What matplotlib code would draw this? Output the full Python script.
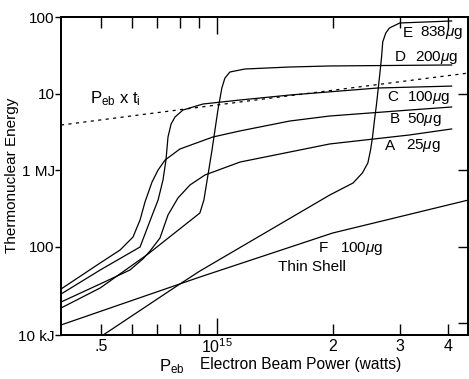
import matplotlib
matplotlib.use("Agg")
import matplotlib.pyplot as plt

plt.rcParams['font.family'] = ['Liberation Sans', 'DejaVu Sans']
plt.rcParams['mathtext.fontset'] = 'custom'
plt.rcParams['mathtext.rm'] = 'Liberation Sans'
plt.rcParams['mathtext.it'] = 'Liberation Sans:italic'

# power in units of 1e15 W, energy in MJ
a_p = [0.393, 0.497, 0.594, 0.642, 0.670, 0.711, 0.746, 0.792, 0.851, 0.931, 1.148, 1.966, 3.17, 4.08]
a_e = [0.0188, 0.0324, 0.0493, 0.0688, 0.0873, 0.129, 0.258, 0.431, 0.637, 0.861, 1.27, 2.19, 2.87, 3.44]

b_p = [0.393, 0.497, 0.560, 0.605, 0.631, 0.650, 0.678, 0.703, 0.733, 0.801, 0.976, 1.148, 1.548, 1.966, 3.17, 4.08]
b_e = [0.0278, 0.0609, 0.0900, 0.133, 0.222, 0.382, 0.697, 1.0, 1.35, 1.88, 2.70, 3.24, 4.37, 5.08, 6.08, 6.66]

c_p = [0.393, 0.497, 0.631, 0.682, 0.703, 0.724, 0.737, 0.746, 0.760, 0.778, 0.816, 0.920, 1.148, 1.548, 2.62, 4.08]
c_e = [0.0239, 0.0493, 0.0985, 0.274, 0.405, 0.740, 1.35, 2.70, 3.99, 4.93, 6.08, 7.29, 8.22, 9.55, 11.8, 12.5]

d_p = [0.393, 0.497, 0.662, 0.903, 0.925, 0.971, 1.006, 1.030, 1.049, 1.081, 1.182, 1.548, 1.966, 4.08]
d_e = [0.0157, 0.0287, 0.0798, 0.274, 0.405, 1.82, 6.08, 11.8, 15.9, 19.1, 20.9, 22.2, 22.9, 23.6]

e_p = [0.506, 0.787, 0.903, 1.966, 2.26, 2.39, 2.47, 2.51, 2.54, 2.57, 2.60, 2.65, 2.68, 2.70, 2.75, 2.81, 2.99, 4.08]
e_e = [0.00697, 0.0305, 0.0478, 0.471, 0.676, 0.914, 1.235, 1.82, 2.70, 4.50, 7.08, 17.0, 29.1, 47.1, 61.8, 71.8, 83.5, 88.7]

f_p = [0.393, 0.903, 2.0, 4.51]
f_e = [0.00942, 0.0399, 0.150, 0.405]

pt_p = [0.393, 1.148, 4.51]
pt_e = [3.87, 7.74, 18.5]

curve_letters = ["A", "B", "C", "D", "E"]
curve_masses = ["25$\\mu$g", "50$\\mu$g", "100$\\mu$g", "200$\\mu$g", "838$\\mu$g"]
letter_pos = [(2.73, 2.06), (2.81, 4.64), (2.78, 9.0), (2.90, 30.0), (3.04, 61.8)]
mass_pos = [(3.10, 2.06), (3.12, 4.64), (3.13, 9.0), (3.27, 30.0), (3.37, 61.8)]

fig = plt.figure(figsize=(4.69, 3.79), dpi=100)
ax = fig.add_axes([61/469, 1-335/379, 407/469, 318/379])

for p, e in [(a_p, a_e), (b_p, b_e), (c_p, c_e), (d_p, d_e), (e_p, e_e), (f_p, f_e)]:
    ax.plot(p, e, color='black', lw=0.9)
ax.plot(pt_p, pt_e, color='black', lw=0.9, ls=(0, (2.5, 3.5)))

ax.set_xscale('log')
ax.set_yscale('log')
ax.set_xlim(0.393, 4.5)
ybot = 0.01 * 10 ** (-12 / 76.5)
ax.set_ylim(ybot, 100)

# x ticks
ax.set_xticks([1])
ax.set_xticklabels(['$10^{15}$'])
ax.set_xticks([0.5, 0.6, 0.7, 0.8, 0.9, 2, 3, 4], minor=True)
ax.set_xticklabels(['.5', '', '', '', '', '2', '3', '4'], minor=True)
ax.tick_params(axis='x', which='major', direction='in', length=12, width=1, top=True, labelsize=11.5, pad=2)
ax.tick_params(axis='x', which='minor', direction='in', length=8, width=1, top=True, labelsize=11.5, pad=3)

# y ticks (left, outward)
ax.set_yticks([ybot, 0.1, 1, 10, 100])
ax.set_yticklabels(['10 kJ', '100', '1 MJ', '10', '100'])
ax.yaxis.set_minor_locator(plt.NullLocator())
ax.tick_params(axis='y', which='major', direction='out', length=4, width=1, labelsize=11, pad=0.5)

ax2 = ax.twinx()
ax2.set_yscale('log')
ax2.set_ylim(ax.get_ylim())
ax2.set_yticks([0.01, 0.1, 1, 10])
ax2.yaxis.set_minor_locator(plt.NullLocator())
ax2.tick_params(axis='y', direction='in', length=7, width=1, labelright=False)

for a in (ax, ax2):
    for s in a.spines.values():
        s.set_linewidth(1.3)

for letter, mass, (lx, ly), (mx, my) in zip(curve_letters, curve_masses, letter_pos, mass_pos):
    ax.text(lx, ly, letter, fontsize=11, va='center', ha='left')
    ax.text(mx, my, mass, fontsize=11, va='center', ha='left')

ax.text(2.23, 0.0955, "F   100$\\mu$g", fontsize=11, va='center', ha='center')
ax.text(1.765, 0.054, "Thin Shell", fontsize=11, va='center', ha='center')
ax.text(0.468, 8.5, "P$_{\\mathrm{eb}}$ x t$_{\\mathrm{i}}$", fontsize=12, va='center', ha='left')

fig.text(12/469, 1-175/379, "Thermonuclear Energy", rotation=90, fontsize=11, va='center', ha='center')
fig.text(159/469, 1-367/379, "P$_{\\mathrm{eb}}$", fontsize=12, va='center', ha='left')
fig.text(200/469, 1-365/379, "Electron Beam Power (watts)", fontsize=11.2, va='center', ha='left')

fig.savefig("out.png", dpi=100)
